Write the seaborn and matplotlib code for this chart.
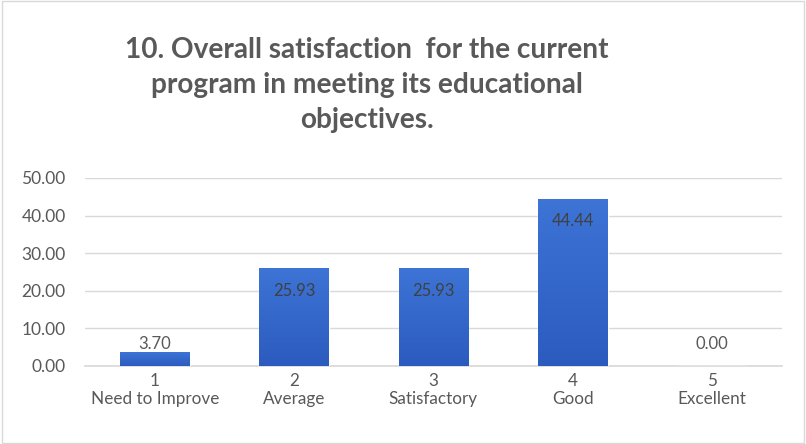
import matplotlib
matplotlib.use("Agg")
import matplotlib.pyplot as plt
import seaborn as sns
import numpy as np
import pandas as pd
from matplotlib.patches import Rectangle
from matplotlib.colors import LinearSegmentedColormap

codes = ["1", "2", "3", "4", "5"]
ratings = ["Need to Improve", "Average", "Satisfactory", "Good", "Excellent"]
values = [3.70, 25.93, 25.93, 44.44, 0.00]
yticks = [0, 10, 20, 30, 40, 50]
title = "10. Overall satisfaction  for the current\nprogram in meeting its educational\nobjectives."

labels = [f"{c}\n{r}" for c, r in zip(codes, ratings)]
df = pd.DataFrame({"label": labels, "value": values})

sns.set_theme(style="white")
plt.rcParams["font.family"] = ["Lato", "DejaVu Sans"]

gray = "#595959"
fig = plt.figure(figsize=(8.06, 4.44), dpi=100)
ax = fig.add_axes([0.1055, 0.1757, 0.8645, 0.4234])

sns.barplot(data=df, x="label", y="value", ax=ax, color="#3366CC", width=0.5,
            saturation=1, zorder=3)

# gradient fill for bars
grad = np.linspace(0, 1, 256).reshape(-1, 1)
cmap = LinearSegmentedColormap.from_list("g", ["#2C5BBE", "#3D74D6"])
for p in ax.patches:
    x0, y0 = p.get_x(), p.get_y()
    w, h = p.get_width(), p.get_height()
    if h <= 0:
        continue
    im = ax.imshow(grad, extent=[x0, x0 + w, y0, y0 + h], origin="lower",
                   cmap=cmap, aspect="auto", zorder=3.5)
    im.set_clip_path(p)
    p.set_facecolor("none")

ax.set_xlim(-0.5, 4.5)
ax.set_ylim(0, 50)
ax.set_yticks(yticks)
ax.set_yticklabels([f"{v:.2f}" for v in yticks])
ax.yaxis.grid(True, color="#D9D9D9", linewidth=1, zorder=0)
ax.set_axisbelow(True)
for s in ["top", "right", "left"]:
    ax.spines[s].set_visible(False)
ax.spines["bottom"].set_color("#D9D9D9")
ax.spines["bottom"].set_zorder(2)
ax.tick_params(axis="both", length=0, colors=gray)
ax.tick_params(axis="y", pad=14, labelsize=12.5)
ax.tick_params(axis="x", pad=5, labelsize=12.3)
ax.set_xlabel("")
ax.set_ylabel("")
for t in ax.get_xticklabels() + ax.get_yticklabels():
    t.set_color(gray)
    t.set_linespacing(1.15)

for i, v in enumerate(values):
    if v > 10:
        ax.annotate(f"{v:.2f}", (i, v), xytext=(0, -16), textcoords="offset points",
                    ha="center", va="center", fontsize=12, color="#404040", zorder=5)
    else:
        off = 5.5 if v > 0 else 15.5
        ax.annotate(f"{v:.2f}", (i, v), xytext=(0, off), textcoords="offset points",
                    ha="center", va="center", fontsize=12, color=gray, zorder=5)

fig.text(0.455, 0.8086, title, ha="center", va="center", fontsize=20.2,
         fontweight="bold", color=gray, linespacing=1.42)

fig.patches.append(Rectangle((0.002, 0.002), 0.996, 0.996, transform=fig.transFigure,
                             fill=False, edgecolor="#D9D9D9", linewidth=1))

fig.savefig("out.png", dpi=100, facecolor="white")
